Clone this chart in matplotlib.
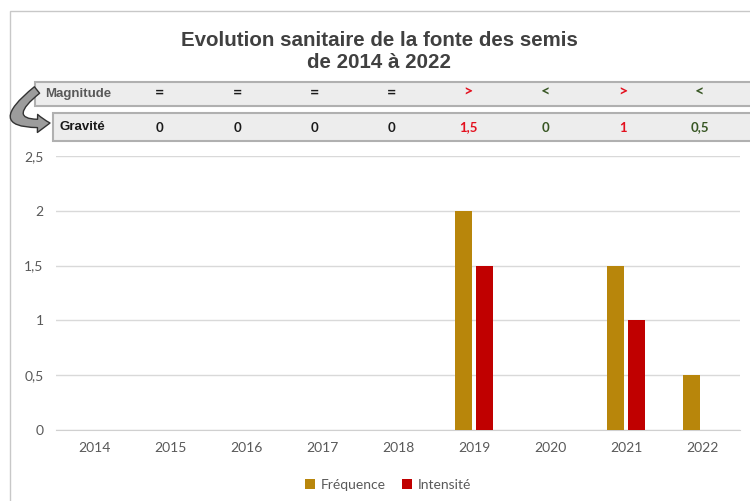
import matplotlib
matplotlib.use('Agg')
import matplotlib.pyplot as plt
from matplotlib.patches import Rectangle, FancyArrowPatch
import numpy as np

# ===== DONNÉES =====
annees = ['2014', '2015', '2016', '2017', '2018', '2019', '2020', '2021', '2022']
frequence = [0, 0, 0, 0, 0, 2, 0, 1.5, 0.5]
intensite = [0, 0, 0, 0, 0, 1.5, 0, 1, 0]
magnitude = ['=', '=', '=', '=', '>', '<', '>', '<']
gravite = ['0', '0', '0', '0', '1,5', '0', '1', '0,5']
y_ticks = [0, 0.5, 1, 1.5, 2, 2.5]
y_labels = ['0', '0,5', '1', '1,5', '2', '2,5']

COL_FREQ = '#B8860B'
COL_INT = '#C00000'
couleur_signe = {'=': '#1A1A1A', '>': '#E3101E', '<': '#375623'}

W, H = 750, 501


def fx(px):
    return px / W


def fy(py):
    return 1 - py / H


fig = plt.figure(figsize=(7.5, 5.01), dpi=100)

# cadre extérieur
fig.patches.append(Rectangle((fx(10), fy(560)), 1.2, fy(11) - fy(560),
                             transform=fig.transFigure, fill=False,
                             edgecolor='#C8C8C8', linewidth=1))

ax = fig.add_axes([fx(56), fy(430), fx(740) - fx(56), fy(156) - fy(430)])
x = np.arange(len(annees))
larg = 0.22
ax.bar(x - 0.14, frequence, width=larg, color=COL_FREQ, label='Fréquence', zorder=3)
ax.bar(x + 0.14, intensite, width=larg, color=COL_INT, label='Intensité', zorder=3)

ax.set_xlim(-0.5, len(annees) - 0.5)
ax.set_ylim(0, 2.5)
ax.set_xticks(x)
ax.set_xticklabels(annees)
ax.set_yticks(y_ticks)
ax.set_yticklabels(y_labels)
ax.tick_params(length=0, labelsize=10, colors='#595959', pad=9)
for lab in ax.get_xticklabels() + ax.get_yticklabels():
    lab.set_family('Lato')
ax.grid(True, axis='y', color='#D9D9D9', linewidth=1, zorder=0)
for s in ['top', 'right', 'left']:
    ax.spines[s].set_visible(False)
ax.spines['bottom'].set_color('#D0D0D0')

fig.legend(loc='center', bbox_to_anchor=(fx(388), fy(485)), ncol=2, frameon=False,
           prop={'family': 'Lato', 'size': 10}, handlelength=0.7, handleheight=0.7,
           handletextpad=0.4, columnspacing=1.2, labelcolor='#595959')

fig.text(fx(379), fy(51), 'Evolution sanitaire de la fonte des semis\nde 2014 à 2022',
         ha='center', va='center', fontsize=14.8, fontweight='bold',
         family='Liberation Sans', color='#404040', linespacing=1.2)

# ===== TABLEAU MAGNITUDE / GRAVITÉ =====
fig.patches.append(Rectangle((fx(35), fy(106)), 1, fy(82) - fy(106),
                             transform=fig.transFigure, facecolor='#EDEDED',
                             edgecolor='#B0B0B0', linewidth=1.5))
fig.patches.append(Rectangle((fx(53), fy(141)), 1, fy(113) - fy(141),
                             transform=fig.transFigure, facecolor='#EDEDED',
                             edgecolor='#B0B0B0', linewidth=1.5))
fig.text(fx(45), fy(94), 'Magnitude', ha='left', va='center', fontsize=9.5,
         fontweight='bold', family='Liberation Sans', color='#595959')
fig.text(fx(60), fy(127), 'Gravité', ha='left', va='center', fontsize=9.5,
         fontweight='bold', family='Liberation Sans', color='#1A1A1A')

for k, (m, g) in enumerate(zip(magnitude, gravite)):
    xc = fx(160 + k * 77.1)
    c = couleur_signe[m]
    fig.text(xc, fy(93), m, ha='center', va='center', fontsize=11.5,
             fontweight='bold', family='Lato', color=c)
    fig.text(xc, fy(127.5), g, ha='center', va='center', fontsize=9.5,
             fontweight='bold', family='Lato', color=c)

fleche = FancyArrowPatch((fx(37), fy(90)), (fx(50), fy(123)),
                         transform=fig.transFigure,
                         connectionstyle='arc3,rad=1.6',
                         shrinkA=0, shrinkB=0,
                         arrowstyle='simple,head_width=13,head_length=9,tail_width=6',
                         facecolor='#9C9C9C', edgecolor='#333333', linewidth=1)
fig.patches.append(fleche)

plt.savefig('out.png', dpi=100)
